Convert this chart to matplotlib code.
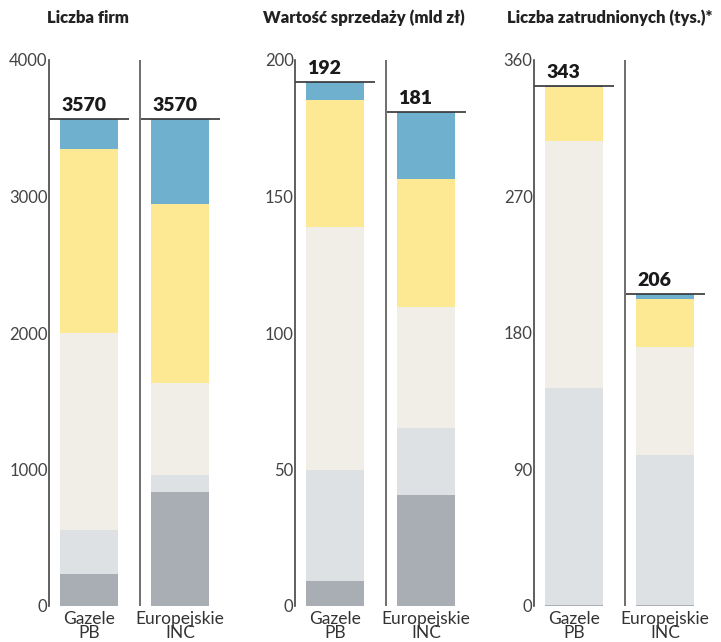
import matplotlib.pyplot as plt
import matplotlib as mpl

mpl.rc('font', family=['Lato', 'DejaVu Sans'])

titles = ['Liczba firm', 'Wartość sprzedaży (mld zł)', 'Liczba zatrudnionych (tys.)*']
groups = ['Gazele\nPB', 'Europejskie\nINC']
colors = ['#a8aeb3', '#dee1e4', '#f1eee7', '#fde993', '#6fb0cf']

# stacked segments, bottom -> top: dark gray, light gray, beige, yellow, blue
firmy_gazele = [232, 323, 1445, 1345, 225]
firmy_inc = [833, 124, 678, 1310, 625]
sprzedaz_gazele = [9, 41, 89, 46.4, 6.6]
sprzedaz_inc = [40.5, 24.8, 44.4, 46.6, 24.7]
zatrud_gazele = [0.7, 143.3, 162.6, 35.4, 1.0]
zatrud_inc = [0.7, 98.7, 71.3, 32.0, 3.3]

totals = [[3570, 3570], [192, 181], [343, 206]]
ymax = [4000, 200, 360]
yticks = [[0, 1000, 2000, 3000, 4000], [0, 50, 100, 150, 200], [0, 90, 180, 270, 360]]
data = [[firmy_gazele, firmy_inc], [sprzedaz_gazele, sprzedaz_inc], [zatrud_gazele, zatrud_inc]]

W, H = 721, 642
fig = plt.figure(figsize=(W / 100, H / 100), dpi=100)

axis_x = [49, 295, 534]
title_x = [47, 263, 507]
y_top, y_bot = 60, 606

for p in range(3):
    x0 = axis_x[p]
    ax = fig.add_axes([x0 / W, (H - y_bot) / H, 175 / W, (y_bot - y_top) / H])
    ax.set_xlim(0, 175)
    ax.set_ylim(0, ymax[p])
    centers = [40, 131]
    for g in range(2):
        bottom = 0
        for seg, c in zip(data[p][g], colors):
            ax.bar(centers[g], seg, width=58, bottom=bottom, color=c, linewidth=0)
            bottom += seg
        # total line + label
        lx = [0, 80] if g == 0 else [92, 171]
        ax.plot(lx, [totals[p][g], totals[p][g]], color='#333333', lw=1.2,
                solid_capstyle='butt', clip_on=False)
        ax.annotate(str(totals[p][g]), (centers[g] - 29 + 1, totals[p][g]),
                    xytext=(0, 3.5), textcoords='offset points',
                    ha='left', va='bottom', fontsize=14, fontweight='heavy',
                    color='#1a1a1a')
        ax.text(centers[g], -ymax[p] * 0.01, groups[g], ha='center', va='top',
                fontsize=12.5, color='#333333', linespacing=0.8)
    ax.axvline(91, color='#555555', lw=1.2)
    for s in ['top', 'right', 'bottom']:
        ax.spines[s].set_visible(False)
    ax.spines['left'].set_color('#444444')
    ax.spines['left'].set_linewidth(1.2)
    ax.set_xticks([])
    ax.set_yticks(yticks[p])
    ax.tick_params(axis='y', length=0, pad=1, labelsize=12, labelcolor='#444444')
    fig.text(title_x[p] / W, 1 - 18 / H, titles[p], ha='left', va='center',
             fontsize=12, fontweight='heavy', color='#222222')

fig.savefig('out.png', dpi=100)
